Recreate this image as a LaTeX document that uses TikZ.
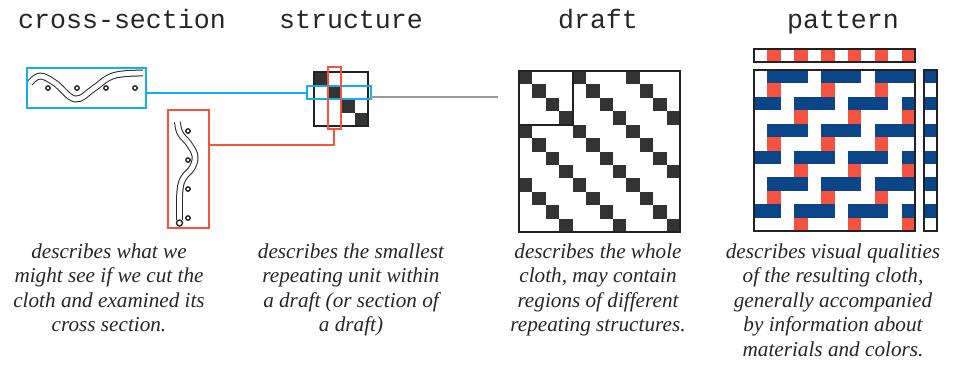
\documentclass[tikz,border=0pt]{standalone}
\usepackage{fontspec}
\setmainfont{Liberation Serif}
\setmonofont{Liberation Mono}
\usetikzlibrary{calc}

\definecolor{xcyan}{HTML}{14AEEF}
\definecolor{xred}{HTML}{F5533F}
\definecolor{xnavy}{HTML}{0A4587}
\definecolor{ink}{HTML}{333333}
\definecolor{frameink}{HTML}{222222}
\definecolor{lead}{HTML}{9A9A9A}

\begin{document}
\begin{tikzpicture}[x=0.5pt, y=-0.5pt]
        % Define styles
        \tikzstyle{title} = [font=\ttfamily\fontsize{13.3}{16}\selectfont, anchor=base, text=black!85]
        \tikzstyle{caption} = [font=\itshape\fontsize{10.6}{12.3}\selectfont,
            align=center, anchor=north, inner sep=0pt, text=black!85]
        \tikzstyle{frame} = [draw=frameink, line width=1pt, inner sep=0pt, outer sep=0pt]
        \tikzstyle{weftbox} = [draw=xcyan, line width=1pt, inner sep=0pt, outer sep=0pt]
        \tikzstyle{warpbox} = [draw=xred, line width=1pt, inner sep=0pt, outer sep=0pt]
        \tikzstyle{yarn} = [draw=black!85, line width=0.5pt, double=white, double distance=2.4pt]
        \tikzstyle{pin} = [draw=black!85, line width=0.7pt, fill=white]
        \tikzstyle{line} = [line width=1pt]
        \def\cell{13.42}

        \useasboundingbox (0,0) rectangle (953,365);

        % Titles
        \node [title] (xsectitle) at (122,28) {cross-section};
        \node [title] (structtitle) at (351,28) {structure};
        \node [title] (drafttitle) at (598,28) {draft};
        \node [title] (patterntitle) at (843,28) {pattern};

        % Cross-section, weft direction
        \path [yarn] plot [smooth, tension=0.65] coordinates
            {(30,83) (40,76) (55,83) (75,99) (93,89) (108,78) (122,74) (143,73)};
        \foreach \x in {48,77,106,135}
            \path [pin] (\x,88) circle (1.1pt);
        \node [weftbox, minimum width=59.5pt, minimum height=20pt] (xsecweft) at (86.5,88) {};

        % Cross-section, warp direction
        \path [yarn] plot [smooth, tension=0.65] coordinates
            {(177.5,122) (180,133) (189,144) (195,156) (192,168) (183.5,178) (180,190) (179.5,213) (179.5,220)};
        \path [pin] (179.5,223) circle (1.5pt);
        \foreach \y in {131,160,189,218}
            \path [pin] (188,\y) circle (1.1pt);
        \node [warpbox, minimum width=20.5pt, minimum height=59pt] (xsecwarp) at (188.5,169) {};

        % Structure
        \foreach \i in {0,...,3}
            \fill [ink] ({314+\i*13.5},{72+\i*13.5}) rectangle ++(13.5,13.5);
        \node [frame, minimum width=27pt, minimum height=27pt] (struct) at (341,99) {};
        \node [weftbox, minimum width=32pt, minimum height=6.8pt] (structweft) at (339,92.5) {};
        \node [warpbox, minimum width=6.3pt, minimum height=31pt] (structwarp) at (334.2,98) {};

        % Draft
        \foreach \row in {0,...,11}
            \foreach \col in {0,...,11}{
                \pgfmathtruncatemacro\lift{mod(\col-\row+12,4)}
                \ifnum\lift=0
                    \fill [ink] ({519+\col*\cell},{71+\row*\cell}) rectangle ++(\cell,\cell);
                \fi
            }
        \node [frame, minimum width=80.5pt, minimum height=80.5pt] (draft) at (599.5,151.5) {};
        \node [frame, minimum width=26.8pt, minimum height=26.8pt] (draftunit) at (545.8,97.8) {};

        % Pattern
        \foreach \row in {0,...,11}
            \foreach \col in {0,...,11}{
                \pgfmathtruncatemacro\lift{mod(\col-\row+12,4)}
                \ifnum\lift=0
                    \ifodd\col
                        \fill [xred] ({754+\col*\cell},{70+\row*\cell}) rectangle ++(\cell,\cell);
                    \fi
                \else
                    \ifodd\row\else
                        \fill [xnavy] ({754+\col*\cell},{70+\row*\cell}) rectangle ++(\cell,\cell);
                    \fi
                \fi
            }
        \node [frame, minimum width=80.5pt, minimum height=80.5pt] (pattern) at (834.5,150.5) {};

        % Warp colours along the top
        \foreach \col in {1,3,...,11}
            \fill [xred] ({754+\col*\cell},49) rectangle ++(\cell,\cell);
        \node [frame, minimum width=80.5pt, minimum height=6.7pt] (warpbar) at (834.5,55.7) {};

        % Weft colours down the side
        \foreach \row in {0,2,...,10}
            \fill [xnavy] (924,{70+\row*\cell}) rectangle ++(\cell,\cell);
        \node [frame, minimum width=6.7pt, minimum height=80.5pt] (weftbar) at (930.7,150.5) {};

        % Connectors
        \coordinate (draftlead) at (498,97);
        \draw [line, draw=xcyan] (structweft.west) -- (structweft.west -| xsecweft.east);
        \draw [line, draw=xred] (structwarp.south) |- ($(xsecwarp.north east)!0.3!(xsecwarp.south east)$);
        \draw [line, draw=lead] (structweft.east |- draftlead) -- (draftlead);

        % Captions
        \node [caption] (xseccap) at (109,243) {describes what we\\might see if we cut the\\cloth and examined its\\cross section.};
        \node [caption] (structcap) at (351,243) {describes the smallest\\repeating unit within\\a draft (or section of\\a draft)};
        \node [caption] (draftcap) at (598,243) {describes the whole\\cloth, may contain\\regions of different\\repeating structures.};
        \node [caption] (patterncap) at (833,243) {describes visual qualities\\of the resulting cloth,\\generally accompanied\\by information about\\materials and colors.};
\end{tikzpicture}
\end{document}
